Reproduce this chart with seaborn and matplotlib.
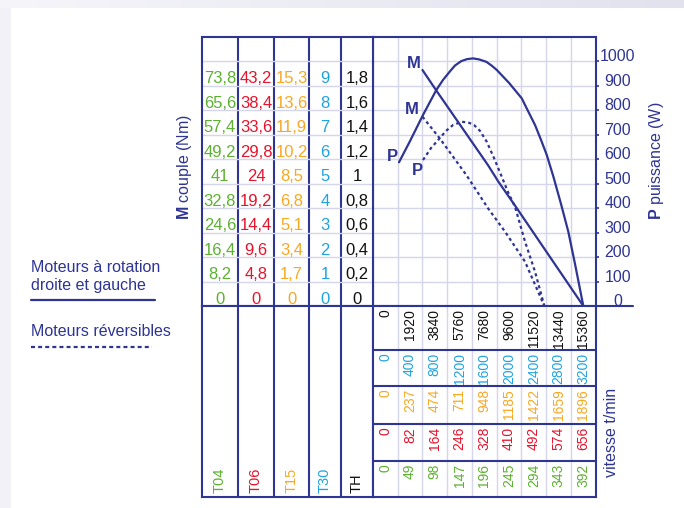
import matplotlib
matplotlib.use('Agg')
import matplotlib.pyplot as plt
import matplotlib.transforms as mtransforms
from matplotlib.colors import LinearSegmentedColormap
from matplotlib.patches import Rectangle
import numpy as np
import pandas as pd
import seaborn as sns

# --- table values (torque per motor, one row per 0.2 TH step) ---
motors = ['T04', 'T06', 'T15', 'T30', 'TH']
torque_T04 = [0, 8.2, 16.4, 24.6, 32.8, 41, 49.2, 57.4, 65.6, 73.8]
torque_T06 = [0, 4.8, 9.6, 14.4, 19.2, 24, 29.8, 33.6, 38.4, 43.2]
torque_T15 = [0, 1.7, 3.4, 5.1, 6.8, 8.5, 10.2, 11.9, 13.6, 15.3]
torque_T30 = [0, 1, 2, 3, 4, 5, 6, 7, 8, 9]
torque_TH = [0, 0.2, 0.4, 0.6, 0.8, 1, 1.2, 1.4, 1.6, 1.8]

# --- speed table (t/min) ---
speed_TH = [0, 1920, 3840, 5760, 7680, 9600, 11520, 13440, 15360]
speed_T30 = [0, 400, 800, 1200, 1600, 2000, 2400, 2800, 3200]
speed_T15 = [0, 237, 474, 711, 948, 1185, 1422, 1659, 1896]
speed_T06 = [0, 82, 164, 246, 328, 410, 492, 574, 656]
speed_T04 = [0, 49, 98, 147, 196, 245, 294, 343, 392]

power_ticks = [0, 100, 200, 300, 400, 500, 600, 700, 800, 900, 1000]

# --- curves, x in TH speed (t/min), M in TH units, P in W ---
m_solid_speed = [2880, 3950, 7965, 8740, 10190, 15360]
m_solid_val = [1.927, 1.76, 1.15, 1.02, 0.80, 0.0]
p_solid_speed = [1058, 1888, 2920, 3953, 4473, 4993, 5404, 5893, 6335, 6801,
                 7267, 7833, 8237, 8640, 9595, 10581, 11070, 11613, 12078,
                 12521, 13033, 13631, 14197, 14717, 15360]
p_solid_val = [587, 671, 780, 882, 923, 957, 982, 1000, 1008, 1011,
               1007, 997, 982, 964, 911, 848, 796, 739, 678,
               617, 529, 416, 303, 171, 0]
m_dash_speed = [2880, 4217, 6281, 7965, 9285, 10837, 12335]
m_dash_val = [1.546, 1.369, 1.070, 0.798, 0.607, 0.362, 0.0]
p_dash_speed = [2920, 3541, 4217, 4706, 5249, 5924, 6413, 6879, 7344, 7864,
                8431, 9028, 9517, 10061, 10837, 11613, 12335]
p_dash_val = [596, 645, 685, 715, 739, 752, 750, 739, 715, 671,
              604, 528, 465, 405, 263, 140, 0]

navy = '#2e3592'
grid_c = '#d6d6ea'
motor_colors = ['#5cb130', '#e5132c', '#f7a823', '#1fa3df', '#111111']
dash = (0, (1.4, 1.4))

sns.set_theme(style='white')
plt.rcParams['font.family'] = ['Liberation Sans', 'DejaVu Sans']
plt.rcParams['mathtext.fontset'] = 'custom'
plt.rcParams['mathtext.bf'] = 'Liberation Sans:bold'
plt.rcParams['mathtext.rm'] = 'Liberation Sans'

W, H = 684, 508
col_edges = [202, 238, 274, 309, 341, 373]
x_right = 595.7
y_top, y_mid, y_bot = 36.6, 306, 497
row_tops = [306, 350, 386, 424, 461]


def rect(x0, y0, x1, y1):
    return [x0 / W, 1 - y1 / H, (x1 - x0) / W, (y1 - y0) / H]


def fmt(v):
    return f'{v:g}'.replace('.', ',')


fig = plt.figure(figsize=(6.84, 5.08), dpi=100)

# page background
ax_bg = fig.add_axes([0, 0, 1, 1])
ax_bg.imshow(np.linspace(0, 1, 256)[None, :], extent=(0, W, 8, 0), aspect='auto',
             cmap=LinearSegmentedColormap.from_list('bg', ['#f5f5fa', '#e2e2ee']))
ax_bg.add_patch(Rectangle((0, 8), 11, H, color='#f1f1f7', lw=0))
ax_bg.set_xlim(0, W)
ax_bg.set_ylim(H, 0)
ax_bg.axis('off')

# graph
ax = fig.add_axes(rect(col_edges[-1], y_top, x_right, y_mid))
ax2 = ax.twinx()
ax_lt = fig.add_axes(rect(col_edges[0], y_top, col_edges[-1], y_mid), sharey=ax)
ax_lb = fig.add_axes(rect(col_edges[0], y_mid, col_edges[-1], y_bot))
ax_bt = fig.add_axes(rect(col_edges[-1], y_mid, x_right, y_bot), sharex=ax)

speed_edges = [(a + b) / 2 for a, b in zip(speed_TH[:-1], speed_TH[1:])]
step = speed_TH[1] - speed_TH[0]
ax.set_xlim(speed_TH[0] - step / 2, speed_TH[-1] + step / 2)
ax.set_ylim(0, 2.2)
ax2.set_ylim(0, 1100)
ax.set_xticks(speed_edges)
ax.set_yticks([p / 500 for p in power_ticks[1:]])
ax.grid(True, color=grid_c, lw=1)
ax.tick_params(length=0, labelleft=False, labelbottom=False)

sns.lineplot(x=m_solid_speed, y=m_solid_val, ax=ax, color=navy, lw=1.6)
sns.lineplot(x=m_dash_speed, y=m_dash_val, ax=ax, color=navy, lw=1.6, linestyle=dash)
sns.lineplot(x=p_solid_speed, y=p_solid_val, ax=ax2, color=navy, lw=1.6)
sns.lineplot(x=p_dash_speed, y=p_dash_val, ax=ax2, color=navy, lw=1.6, linestyle=dash)

lab = dict(color=navy, fontsize=12, fontweight='bold', ha='center', va='center',
           textcoords='offset points')
ax.annotate('M', (m_solid_speed[0], m_solid_val[0]), xytext=(-6, 5), **lab)
ax.annotate('M', (m_dash_speed[0], m_dash_val[0]), xytext=(-7.5, 5.5), **lab)
ax2.annotate('P', (p_solid_speed[0], p_solid_val[0]), xytext=(-4.5, 4), **lab)
ax2.annotate('P', (p_dash_speed[0], p_dash_val[0]), xytext=(-3.8, -7.5), **lab)

ax2.set_yticks(power_ticks)
ax2.tick_params(axis='y', direction='out', length=2.5, width=1.2, color=navy,
                labelcolor=navy, labelsize=11.5, pad=13.5)
for t in ax2.get_yticklabels():
    t.set_ha('center')
    t.set_va('baseline')
ax2.set_ylabel(r'$\mathbf{P}$ puissance (W)', color=navy, fontsize=11.5)
ax2.yaxis.set_label_coords(1.23, 0.538)

# left table (torque values)
ax_lt.set_xlim(col_edges[0], col_edges[-1])
ax_lt.set_xticks(col_edges[1:-1])
ax_lt.grid(True, axis='y', color=grid_c, lw=1)
ax_lt.grid(True, axis='x', color=navy, lw=1.5)
ax_lt.tick_params(length=0, labelleft=False, labelbottom=False)
ax_lt.set_ylabel(r'$\mathbf{M}$ couple (Nm)', color=navy, fontsize=11.5)
ax_lt.yaxis.set_label_coords(-0.047, 0.516)
tr = mtransforms.offset_copy(ax_lt.transData, fig=fig, y=1.5, units='points')
torque_cols = [torque_T04, torque_T06, torque_T15, torque_T30, torque_TH]
for j, vals in enumerate(torque_cols):
    xc = (col_edges[j] + col_edges[j + 1]) / 2
    for k, v in enumerate(vals):
        ax_lt.text(xc, torque_TH[k], fmt(v), color=motor_colors[j], fontsize=12,
                   ha='center', va='baseline', transform=tr)

# left bottom (motor names)
ax_lb.set_xlim(col_edges[0], col_edges[-1])
ax_lb.set_ylim(y_bot, y_mid)
ax_lb.set_xticks(col_edges[1:-1])
ax_lb.grid(True, axis='x', color=navy, lw=1.5)
ax_lb.tick_params(length=0, labelleft=False, labelbottom=False)
for j, name in enumerate(motors):
    xc = (col_edges[j] + col_edges[j + 1]) / 2
    ax_lb.text(xc, y_bot - 3.5, name, color=motor_colors[j], fontsize=10.5,
               rotation=90, ha='center', va='bottom')

# bottom table (speeds)
ax_bt.set_ylim(y_bot, y_mid)
ax_bt.set_yticks(row_tops[1:])
ax_bt.grid(True, axis='x', color=grid_c, lw=1)
ax_bt.grid(True, axis='y', color=navy, lw=1.5)
ax_bt.tick_params(length=0, labelleft=False, labelbottom=False, labelright=False)
speed_rows = [speed_TH, speed_T30, speed_T15, speed_T06, speed_T04]
row_colors = motor_colors[::-1]
for r, vals in enumerate(speed_rows):
    for i, v in enumerate(vals):
        ax_bt.text(speed_TH[i], row_tops[r] + 3, str(v), color=row_colors[r],
                   fontsize=10, rotation=90, ha='center', va='top')
ax_bt.yaxis.set_label_position('right')
ax_bt.set_ylabel('vitesse t/min', color=navy, fontsize=11.5)
ax_bt.yaxis.set_label_coords(1.037, 0.340)

for a in (ax, ax_lt, ax_lb, ax_bt):
    for s in a.spines.values():
        s.set_color(navy)
        s.set_linewidth(1.5)
for s in ax2.spines.values():
    s.set_visible(False)

# separator line extending past the table
ax_bg.plot([col_edges[0], 633], [y_mid, y_mid], color=navy, lw=1.5, zorder=5)

# legend
ax_bg.text(31, 271.5, 'Moteurs à rotation', color=navy, fontsize=11.5, va='baseline')
ax_bg.text(31, 290, 'droite et gauche', color=navy, fontsize=11.5, va='baseline')
ax_bg.plot([31, 155], [300, 300], color=navy, lw=1.6)
ax_bg.text(31, 336, 'Moteurs réversibles', color=navy, fontsize=11.5, va='baseline')
ax_bg.plot([31, 152], [347, 347], color=navy, lw=1.6, linestyle=(0, (1.8, 1.4)))

fig.savefig('out.png', dpi=100)
